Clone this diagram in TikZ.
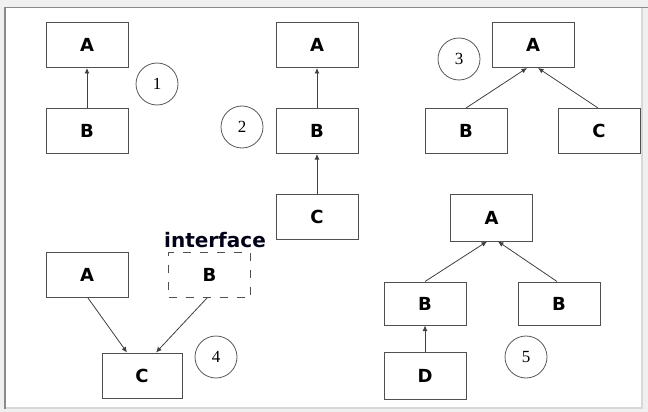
\documentclass[tikz,border=0pt]{standalone}
\usepackage{fontspec}
\setsansfont{DejaVu Sans}
\newfontfamily\numfont{Liberation Serif}
\usetikzlibrary{arrows.meta}
\definecolor{panel}{HTML}{F0F0F0}
\definecolor{edgedark}{HTML}{8A8A8A}
\definecolor{edgelight}{HTML}{D8D8D8}
\definecolor{boxline}{HTML}{505050}
\tikzset{
  cls/.style={draw=boxline, line width=1pt, minimum width=82pt, minimum height=45pt,
    inner sep=0pt, font=\sffamily\bfseries\fontsize{18}{18}\selectfont},
  iface/.style={cls, dash pattern=on 8pt off 9pt},
  tag/.style={circle, draw=black!65, line width=0.8pt, minimum size=42pt, inner sep=0pt,
    font=\numfont\fontsize{17}{17}\selectfont},
  inherit/.style={draw=black!75, line width=0.8pt, -{Latex[length=5.5pt,width=5pt]}},
}
\begin{document}
\begin{tikzpicture}[x=1pt, y=-1pt]
\useasboundingbox (0,0) rectangle (648,412);
% panel background and sunken frame
\fill[panel] (0,0) rectangle (648,412);
\fill[white] (6,8) rectangle (642,408);
\draw[edgelight, line width=1.2pt] (642,8) -- (642,408) -- (6,408);
\draw[edgedark, line width=1.6pt] (5,409) -- (5,7.5) -- (648,7.5);

% 1: single inheritance
\node[cls] (a1) at (87,45) {A};
\node[cls] (b1) at (87,131) {B};
\node[tag] (t1) at (157,84) {1};
\draw[inherit] (b1) -- (a1);

% 2: multilevel inheritance
\node[cls] (a2) at (317,45) {A};
\node[cls] (b2) at (317,131) {B};
\node[cls] (c2) at (317,217) {C};
\node[tag] (t2) at (242,127) {2};
\draw[inherit] (b2) -- (a2);
\draw[inherit] (c2) -- (b2);

% 3: hierarchical inheritance
\node[cls] (a3) at (533,45) {A};
\node[cls] (b3) at (466,131) {B};
\node[cls] (c3) at (599,131) {C};
\node[tag] (t3) at (459,59) {3};
\draw[inherit] (b3.north) -- ([xshift=-6pt]a3.south);
\draw[inherit] ([xshift=-1pt]c3.north) -- ([xshift=5pt]a3.south);

% 4: class plus interface
\node[cls] (a4) at (87,275) {A};
\node[iface] (b4) at (209.5,275) {B};
\node[anchor=base, font=\sffamily\bfseries\fontsize{20}{20}\selectfont, text=black!90!blue]
  (lbl4) at (215,247) {interface};
\node[cls, minimum width=80pt] (c4) at (142,375.5) {C};
\node[tag] (t4) at (216,357) {4};
\draw[inherit] ([xshift=1pt]a4.south) -- ([xshift=-15pt]c4.north);
\draw[inherit] ([xshift=-2.5pt]b4.south) -- ([xshift=14pt]c4.north);

% 5: hybrid inheritance
\node[cls, minimum height=47pt] (a5) at (491.5,217.5) {A};
\node[cls, minimum height=43pt] (b5) at (425,303.5) {B};
\node[cls, minimum height=43pt] (b5r) at (559,303.5) {B};
\node[cls, minimum height=47pt] (d5) at (425,375.5) {D};
\node[tag] (t5) at (526,357) {5};
\draw[inherit] (b5.north) -- ([xshift=-4.5pt]a5.south);
\draw[inherit] ([xshift=-2pt]b5r.north) -- ([xshift=6.5pt]a5.south);
\draw[inherit] (d5) -- (b5);
\end{tikzpicture}
\end{document}
